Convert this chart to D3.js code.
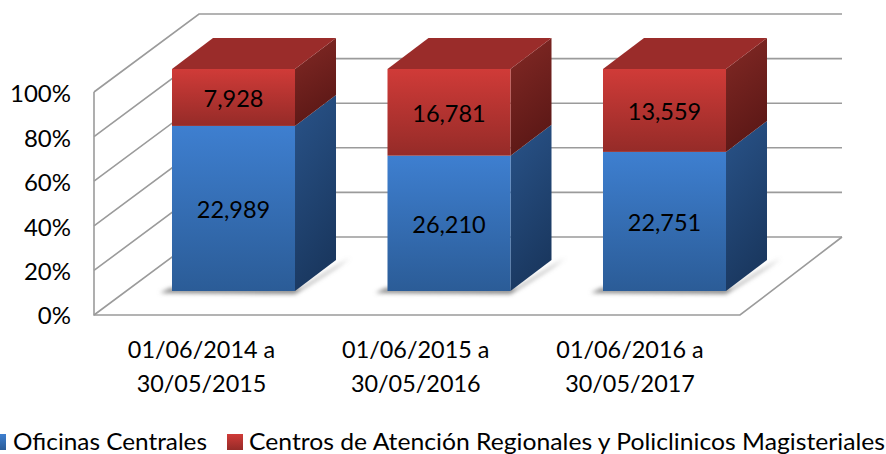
<!DOCTYPE html>
<html>
<head>
<meta charset="utf-8">
<script src="https://d3js.org/d3.v7.min.js"></script>
<style>
  html, body { margin: 0; padding: 0; background: #fff; overflow: hidden; }
  text { font-family: Lato, sans-serif; fill: #000; }
</style>
</head>
<body>
<div id="chartContainer"></div>
<script>
var periods = ["01/06/2014 a|30/05/2015", "01/06/2015 a|30/05/2016", "01/06/2016 a|30/05/2017"];
var oficinas = [22989, 26210, 22751];
var centros = [7928, 16781, 13559];
var seriesNames = ["Oficinas Centrales", "Centros de Atención Regionales y Policlinicos Magisteriales"];
var yTicks = [0, 0.2, 0.4, 0.6, 0.8, 1];

var width = 886, height = 454;
var svg = d3.select("#chartContainer").append("svg").attr("width", width).attr("height", height);

// 3d box projection: wall depth and bar depth, as pixel offsets
var wallDx = 105, wallDy = -78;
var barDx = 41, barDy = -31;

var y = d3.scaleLinear().domain([0, 1]).range([315, 92]);
var yBar = d3.scaleLinear().domain([0, 1]).range([291, 69]);
var x = d3.scaleBand().domain(d3.range(periods.length)).range([125.75, 772.25]).paddingInner(0.4292).paddingOuter(0.2146);
var xLabel = d3.scalePoint().domain(d3.range(periods.length)).range([201.5, 630]);
// tick labels sit a little closer together than the gridlines
var yLabel = d3.scaleLinear().domain([0, 1]).range([315, 93]);

var rows = periods.map(function (p, i) { return { i: i, a: oficinas[i], b: centros[i] }; });
var stacked = d3.stack().keys(["a", "b"]).offset(d3.stackOffsetExpand)(rows);

var defs = svg.append("defs");
function vGrad(id, c1, c2, x2, y2) {
  var g = defs.append("linearGradient").attr("id", id)
    .attr("x1", 0).attr("y1", 0).attr("x2", x2 || 0).attr("y2", y2 === undefined ? 1 : y2);
  g.append("stop").attr("offset", "0%").attr("stop-color", c1);
  g.append("stop").attr("offset", "100%").attr("stop-color", c2);
}
vGrad("frontBlue", "#3e7fd0", "#2b5c97");
vGrad("frontRed", "#d03b38", "#952b28");
vGrad("sideBlue", "#295389", "#1a3860", 0.3, 1);
vGrad("sideRed", "#832925", "#5c1816", 0.3, 1);
defs.append("filter").attr("id", "blur").attr("x", "-20%").attr("y", "-100%").attr("width", "140%").attr("height", "300%")
  .append("feGaussianBlur").attr("stdDeviation", 2.2);

var line = d3.line();
var gridColor = "#9b9b9b";

// walls and floor
var grid = svg.append("g").attr("fill", "none").attr("stroke", gridColor).attr("stroke-width", 1.6);
yTicks.forEach(function (t) {
  grid.append("path").attr("d", line([
    [94, y(t)], [94 + wallDx, y(t) + wallDy], [740 + wallDx - 3, y(t) + wallDy]
  ]));
});
grid.append("path").attr("d", line([[94, y(1)], [94, y(0)], [740, y(0)], [740 + wallDx - 3, y(0) + wallDy]]));

// y axis labels
svg.append("g").selectAll("text").data(yTicks).join("text")
  .attr("x", 71).attr("y", function (d) { return yLabel(d) + 1; })
  .attr("dy", "0.35em").attr("text-anchor", "end").attr("font-size", 24)
  .text(d3.format(".0%"));

// floor shadows
var shadows = svg.append("g").attr("filter", "url(#blur)");
rows.forEach(function (r) {
  var x0 = x(r.i), x1 = x0 + x.bandwidth();
  shadows.append("path").attr("fill", "#8a8a8a").attr("d", line([
    [x0 - 12, yBar(0) + 2], [x1, yBar(0) + 3], [x1 + barDx, yBar(0) + barDy + 8], [x1 + barDx + 14, yBar(0) + barDy - 2], [x1 + 6, yBar(0) - 3], [x0 - 2, yBar(0) - 3]
  ]) + "Z");
});

// bars
var faces = [["frontBlue", "sideBlue"], ["frontRed", "sideRed"]];
var bars = svg.append("g");
rows.forEach(function (r) {
  var x0 = x(r.i), x1 = x0 + x.bandwidth();
  stacked.forEach(function (s, k) {
    var lo = yBar(s[r.i][0]), hi = yBar(s[r.i][1]);
    bars.append("path").attr("fill", "url(#" + faces[k][1] + ")")
      .attr("d", line([[x1, lo], [x1 + barDx, lo + barDy], [x1 + barDx, hi + barDy], [x1, hi]]) + "Z");
    bars.append("rect").attr("x", x0).attr("y", hi).attr("width", x1 - x0).attr("height", lo - hi)
      .attr("fill", "url(#" + faces[k][0] + ")");
  });
  var top = yBar(1);
  bars.append("path").attr("fill", "#9a2c2a")
    .attr("d", line([[x0, top], [x0 + barDx, top + barDy], [x1 + barDx, top + barDy], [x1, top]]) + "Z");
});

// value labels
var labels = svg.append("g");
rows.forEach(function (r) {
  var cx = x(r.i) + x.bandwidth() / 2;
  stacked.forEach(function (s) {
    var mid = yBar((s[r.i][0] + s[r.i][1]) / 2);
    labels.append("text").attr("x", cx).attr("y", mid + 1.5)
      .attr("dy", "0.35em").attr("text-anchor", "middle").attr("font-size", 23.5)
      .text(d3.format(",")(r[s.key]));
  });
});

// category labels
var cats = svg.append("g");
periods.forEach(function (p, i) {
  p.split("|").forEach(function (part, j) {
    cats.append("text").attr("x", xLabel(i)).attr("y", 350 + j * 33.5)
      .attr("dy", "0.35em").attr("text-anchor", "middle").attr("font-size", 23.4)
      .text(part);
  });
});

// legend, first swatch is cut by the left edge as in the source image
var legendX = [[-10, 13, 194], [227, 249, 636]];
seriesNames.forEach(function (name, i) {
  svg.append("rect").attr("x", legendX[i][0]).attr("y", 434).attr("width", 16).attr("height", 16)
    .attr("fill", "url(#" + faces[i][0] + ")");
  svg.append("text").attr("x", legendX[i][1]).attr("y", 442).attr("dy", "0.35em")
    .attr("font-size", 23.5).attr("textLength", legendX[i][2]).attr("lengthAdjust", "spacingAndGlyphs")
    .text(name);
});
</script>
</body>
</html>
